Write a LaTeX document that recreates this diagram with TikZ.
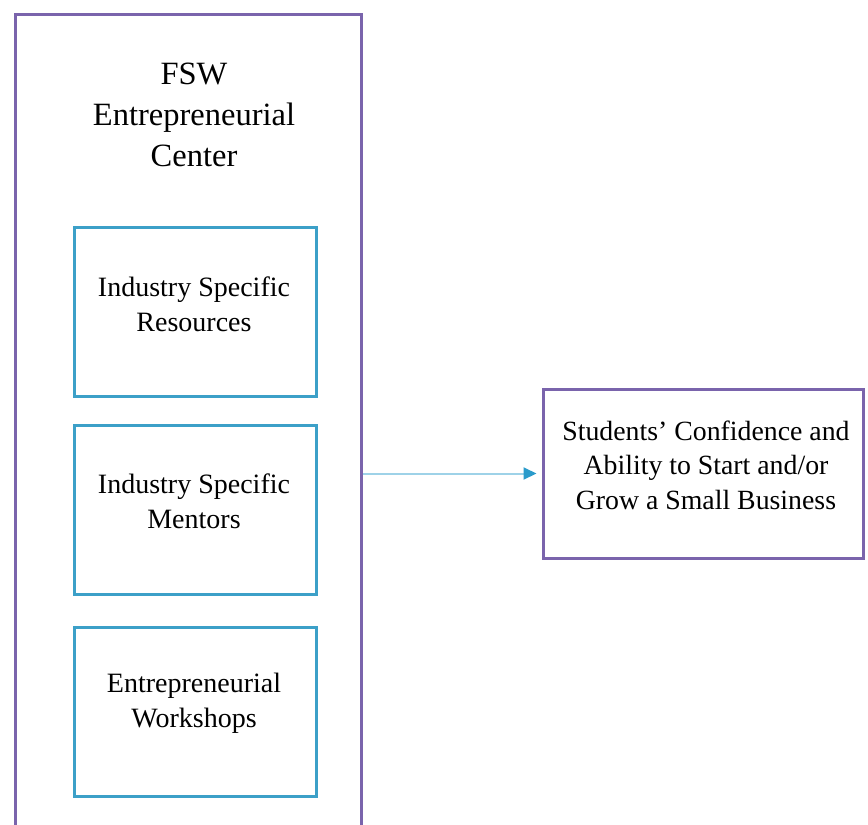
\documentclass[tikz,border=0pt]{standalone}
\usepackage{fontspec}
\setmainfont{Liberation Serif}
\usetikzlibrary{arrows.meta}
\definecolor{framepurple}{HTML}{7A64AC}
\definecolor{boxblue}{HTML}{3CA0C8}
\definecolor{linkblue}{HTML}{9ED2E8}
\definecolor{tipblue}{HTML}{2A9BCB}
\tikzset{
  outerframe/.style={draw=framepurple, line width=3pt, fill=white, inner sep=0pt},
  itembox/.style={draw=boxblue, line width=3pt, fill=white, minimum width=242pt, minimum height=169pt, inner sep=0pt},
  resultbox/.style={draw=framepurple, line width=3pt, fill=white, minimum width=320pt, minimum height=169pt, inner sep=0pt},
  titletext/.style={align=center, font=\fontsize{32.5}{41}\selectfont},
  itemtext/.style={align=center, font=\fontsize{28}{35}\selectfont},
  resulttext/.style={align=center, font=\fontsize{27.8}{34.5}\selectfont},
  link/.style={draw=linkblue, line width=2pt, -{Triangle[length=13pt, width=12pt, color=tipblue]}, shorten >=5pt}
}
\begin{document}
\begin{tikzpicture}[x=1pt, y=-1pt]
  \useasboundingbox (0,0) rectangle (868,825);
  \clip (0,0) rectangle (868,825);
  \fill[white] (0,0) rectangle (868,825);

  % centre frame (runs past the lower edge)
  \node[outerframe, minimum width=346pt, minimum height=840pt, anchor=north west] (centre) at (14,13) {};
  \node[titletext] (title) at (194,115) {FSW\\Entrepreneurial\\Center};

  % the three services offered by the centre
  \node[itembox] (resources) at (195,311.5) {};
  \node[itemtext] (resourcestext) at (194,304) {Industry Specific\\Resources};

  \node[itembox] (mentors) at (195,509.5) {};
  \node[itemtext] (mentorstext) at (194,501) {Industry Specific\\Mentors};

  \node[itembox] (workshops) at (195,711.5) {};
  \node[itemtext] (workshopstext) at (194,703) {Entrepreneurial\\Workshops};

  % outcome
  \node[resultbox] (outcome) at (703,473.5) {};
  \node[resulttext] (outcometext) at (706,465) {Students’ Confidence and\\Ability to Start and/or\\Grow a Small Business};

  \draw[link] (centre.east |- outcome.west) -- (outcome.west);
\end{tikzpicture}
\end{document}
